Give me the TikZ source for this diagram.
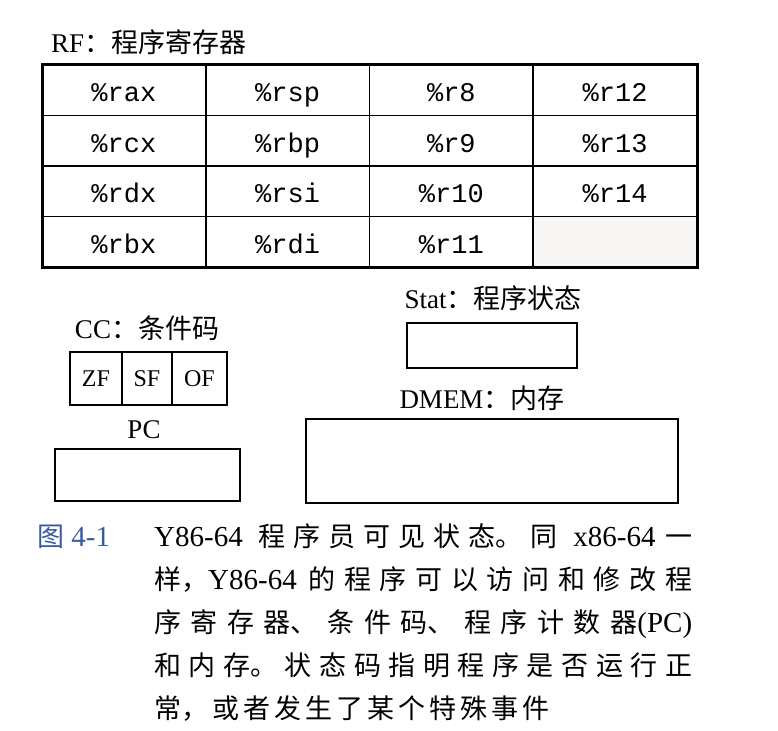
\documentclass[tikz,border=0pt]{standalone}
\usepackage{fontspec}
\setmainfont{Noto Sans CJK SC}
\newfontfamily\lat{Liberation Serif}
\newfontfamily\mono{Liberation Mono}
\definecolor{figblue}{RGB}{58,90,160}
\definecolor{blankcell}{RGB}{248,246,245}
\XeTeXlinebreaklocale "zh"
\XeTeXlinebreakskip=2pt plus 1pt
\newcommand\labtxt[2]{{\lat\fontsize{27}{30}\selectfont #1}{\fontsize{27}{30}\selectfont #2}}
\newcommand\capL[1]{{\lat\fontsize{29}{43}\selectfont #1}}
\newcommand\capsp{\hspace{14pt plus 4pt}}
\begin{document}
\begin{tikzpicture}[x=1pt,y=-1pt,
  cell/.style={draw, line width=1.8pt, minimum width=163.75pt, minimum height=50.5pt, inner sep=0pt, outer sep=0pt,
    text height=23pt, text depth=0pt, font=\mono\fontsize{27}{30}\selectfont},
  flag/.style={draw, line width=1.8pt, minimum height=53pt, inner sep=0pt, outer sep=0pt,
    font=\lat\fontsize{24}{28}\selectfont},
  box/.style={draw, line width=2.5pt, inner sep=0pt, outer sep=0pt},
  lab/.style={inner sep=0pt}]
\useasboundingbox (0,0) rectangle (778,730);
% register file
\node[cell] (rax) at (123.875,90.25) {\%rax};
\node[cell] (rsp) at (287.625,90.25) {\%rsp};
\node[cell] (r8)  at (451.375,90.25) {\%r8};
\node[cell] (r12) at (615.125,90.25) {\%r12};
\node[cell] (rcx) at (123.875,140.75) {\%rcx};
\node[cell] (rbp) at (287.625,140.75) {\%rbp};
\node[cell] (r9)  at (451.375,140.75) {\%r9};
\node[cell] (r13) at (615.125,140.75) {\%r13};
\node[cell] (rdx) at (123.875,191.25) {\%rdx};
\node[cell] (rsi) at (287.625,191.25) {\%rsi};
\node[cell] (r10) at (451.375,191.25) {\%r10};
\node[cell] (r14) at (615.125,191.25) {\%r14};
\node[cell] (rbx) at (123.875,241.75) {\%rbx};
\node[cell] (rdi) at (287.625,241.75) {\%rdi};
\node[cell] (r11) at (451.375,241.75) {\%r11};
\node[cell, fill=blankcell] (empty) at (615.125,241.75) {};
\draw[line width=3pt] (rax.north west) rectangle (empty.south east);
\node[lab, anchor=west] (rflab) at (51,42) {\labtxt{RF}{：程序寄存器}};
% status
\node[lab] (statlab) at (493,298) {\labtxt{Stat}{：程序状态}};
\node[box, minimum width=170pt, minimum height=45pt] (stat) at (492,345.5) {};
% condition codes
\node[lab] (cclab) at (147,328) {\labtxt{CC}{：条件码}};
\node[flag, minimum width=52pt] (zf) at (96,378.5) {\raisebox{-10pt}{ZF}};
\node[flag, minimum width=50pt] (sf) at (147,378.5) {\raisebox{-10pt}{SF}};
\node[flag, minimum width=55pt] (of) at (199.5,378.5) {\raisebox{-10pt}{OF}};
\draw[line width=2.5pt] (zf.north west) rectangle (of.south east);
% memory
\node[lab] (dmemlab) at (482,398) {\labtxt{DMEM}{：内存}};
\node[box, minimum width=372pt, minimum height=84pt] (dmem) at (492,461) {};
% program counter
\node[lab] (pclab) at (144,430) {\labtxt{PC}{}};
\node[box, minimum width=185pt, minimum height=52pt] (pc) at (147.5,475) {};
% caption
\node[lab, anchor=base west, text=figblue] (fig) at (37,546)
  {{\fontsize{27}{30}\selectfont 图}\capL{ 4-1}};
\node[lab, anchor=base west] (cap) at (154,546) {\parbox[t]{538pt}{%
  \fontsize{27pt}{43pt}\selectfont
  \XeTeXlinebreakskip=4pt plus 10pt\relax
  \parindent=0pt\raggedright\rightskip=0pt\parfillskip=0pt plus 1fil
  \capL{Y86-64}\capsp 程序员可见状态。同\capsp\capL{x86-64}\hspace{8pt plus 4pt}一\linebreak
  样，\capL{Y86-64}\hspace{10pt plus 4pt}的程序可以访问和修改程\linebreak
  序寄存器、条件码、程序计数器\capL{(PC)}\linebreak
  和内存。状态码指明程序是否运行正\linebreak
  常，或者发生了某个特殊事件}};
\end{tikzpicture}
\end{document}
